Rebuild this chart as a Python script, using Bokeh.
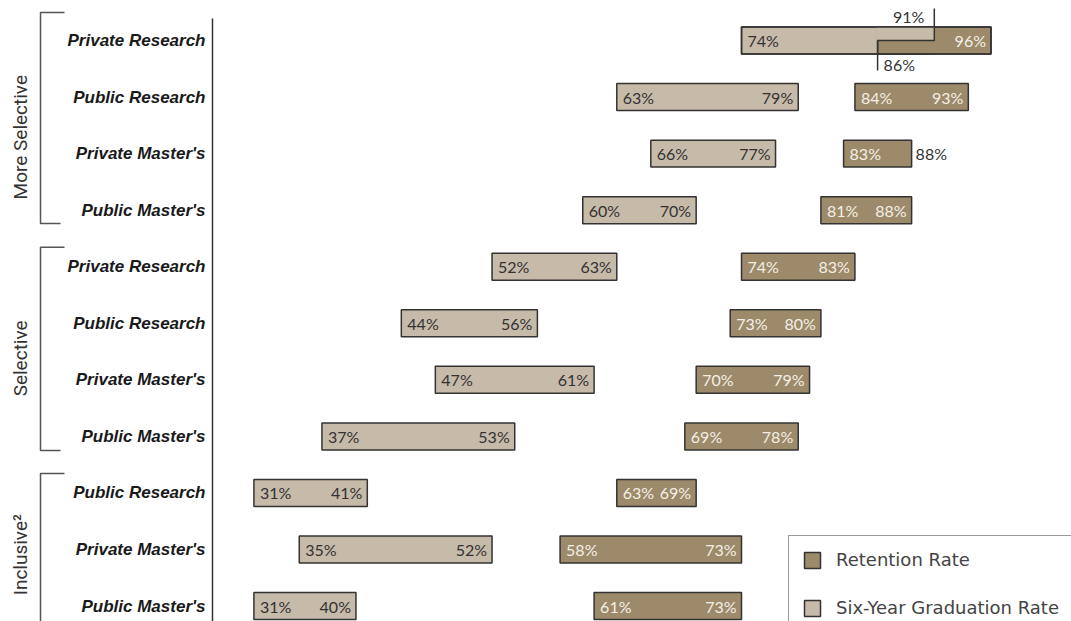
from bokeh.plotting import figure
from bokeh.models import Range1d, Legend, LegendItem
from bokeh.core.properties import value
from bokeh.embed import file_html
from bokeh.resources import INLINE
import math

# ---------------- data ----------------
categories = ["Private Research", "Public Research", "Private Master's", "Public Master's",
              "Private Research", "Public Research", "Private Master's", "Public Master's",
              "Public Research", "Private Master's", "Public Master's"]
groups = ["More Selective", "Selective", "Inclusive\u00b2"]
group_sizes = [4, 4, 3]

# labelled values (%)
grad_lo = [74, 63, 66, 60, 52, 44, 47, 37, 31, 35, 31]
grad_hi = [91, 79, 77, 70, 63, 56, 61, 53, 41, 52, 40]
ret_lo = [86, 84, 83, 81, 74, 73, 70, 69, 63, 58, 61]
ret_hi = [96, 93, 88, 88, 83, 80, 79, 78, 69, 73, 73]
# right ends of the bars as drawn in the picture (%)
grad_hi_drawn = [91, 79, 77, 70, 63, 56, 61, 54, 41, 52, 40]
ret_hi_drawn = [96, 94, 89, 89, 84, 81, 80, 79, 70, 74, 74]

# ---------------- layout / style ----------------
W, H = 1071, 621
PX = 11.34            # pixels per percentage point
X0 = 8.654            # value at the left edge of the figure
PITCH = 56.56         # pixels per row
Y_TOP = -40 / PITCH
Y_BOT = Y_TOP + H / PITCH
BAR_H = 0.477

LIGHT = "#C6BAA9"
DARK = "#9C8A6A"
EDGE = "#333333"
TXT = "#333333"
TXT_LIGHT = "#F4EFE6"
VAL_FONT = value("Lato")
VAL_SIZE = "16px"


def xpx(px):
    return X0 + px / PX


def ypx(py):
    return Y_TOP + py / PITCH


def dpx(px):
    return px / PITCH


rows = list(range(len(categories)))

p = figure(width=W, height=H, x_range=Range1d(X0, X0 + W / PX), y_range=Range1d(Y_BOT, Y_TOP),
           output_backend="svg", toolbar_location=None, x_axis_location=None, y_axis_location=None,
           min_border=0)
p.grid.visible = False
p.outline_line_color = None
p.background_fill_color = "white"
p.border_fill_color = "white"

tops = [r - BAR_H / 2 for r in rows]
bots = [r + BAR_H / 2 for r in rows]

r_grad = p.quad(left=grad_lo, right=grad_hi_drawn, top=tops, bottom=bots,
                fill_color=LIGHT, line_color=EDGE, line_width=1.5)
r_ret = p.quad(left=ret_lo, right=ret_hi_drawn, top=tops, bottom=bots,
               fill_color=DARK, line_color=EDGE, line_width=1.5)

# overlapping rows: upper half shows graduation end, lower half retention start
ov = [i for i in rows if grad_hi[i] > ret_lo[i]]
if ov:
    p.quad(left=[ret_lo[i] - 0.12 for i in ov], right=[grad_hi_drawn[i] for i in ov],
           top=[tops[i] for i in ov], bottom=[rows[i] for i in ov],
           fill_color=LIGHT, line_color=None)
    p.quad(left=[grad_lo[i] for i in ov], right=[ret_hi_drawn[i] for i in ov],
           top=[tops[i] for i in ov], bottom=[bots[i] for i in ov],
           fill_color=None, line_color=EDGE, line_width=1.5)
    for i in ov:
        p.line(x=[grad_hi_drawn[i], grad_hi_drawn[i], ret_lo[i], ret_lo[i]],
               y=[ypx(8), rows[i], rows[i], rows[i] + dpx(30)], line_color=EDGE, line_width=1.5)
    p.text(x=[grad_hi_drawn[i] for i in ov], y=[rows[i] - dpx(24) for i in ov],
           text=[f"{grad_hi[i]}%" for i in ov], text_align="right", text_baseline="middle",
           x_offset=-10, text_font=VAL_FONT, text_font_size=VAL_SIZE, text_color=TXT)
    p.text(x=[ret_lo[i] for i in ov], y=[rows[i] + dpx(24) for i in ov],
           text=[f"{ret_lo[i]}%" for i in ov], text_align="left", text_baseline="middle",
           x_offset=6, text_font=VAL_FONT, text_font_size=VAL_SIZE, text_color=TXT)

nov = [i for i in rows if i not in ov]

# graduation labels
p.text(x=grad_lo, y=rows, text=[f"{v}%" for v in grad_lo], text_align="left",
       text_baseline="middle", x_offset=6, text_font=VAL_FONT, text_font_size=VAL_SIZE,
       text_color=TXT)
p.text(x=[grad_hi_drawn[i] for i in nov], y=[rows[i] for i in nov],
       text=[f"{grad_hi[i]}%" for i in nov], text_align="right", text_baseline="middle",
       x_offset=-5, text_font=VAL_FONT, text_font_size=VAL_SIZE, text_color=TXT)

# retention labels
p.text(x=[ret_lo[i] for i in nov], y=[rows[i] for i in nov],
       text=[f"{ret_lo[i]}%" for i in nov], text_align="left", text_baseline="middle",
       x_offset=6, text_font=VAL_FONT, text_font_size=VAL_SIZE, text_color=TXT_LIGHT)
narrow = [i for i in nov if (ret_hi_drawn[i] - ret_lo[i]) * PX < 75]
inside = [i for i in rows if i not in narrow]
p.text(x=[ret_hi_drawn[i] for i in inside], y=[rows[i] for i in inside],
       text=[f"{ret_hi[i]}%" for i in inside], text_align="right", text_baseline="middle",
       x_offset=-5, text_font=VAL_FONT, text_font_size=VAL_SIZE, text_color=TXT_LIGHT)
p.text(x=[ret_hi_drawn[i] for i in narrow], y=[rows[i] for i in narrow],
       text=[f"{ret_hi[i]}%" for i in narrow], text_align="left", text_baseline="middle",
       x_offset=4, text_font=VAL_FONT, text_font_size=VAL_SIZE, text_color=TXT)

# axis line
p.segment(x0=[xpx(212)], y0=[ypx(18)], x1=[xpx(212)], y1=[Y_BOT + 1],
          line_color=EDGE, line_width=1.5)

# category labels
p.text(x=[xpx(205)] * len(rows), y=rows, text=categories, text_align="right",
       text_baseline="middle", text_font=value("Liberation Sans"), text_font_style="bold italic",
       text_font_size="17px", text_color="#1a1a1a")

# group brackets and labels
top_pad = [0.495, 0.344, 0.344]
bot_pad = [0.235, 0.25, 0.32]
label_shift = [0.21, 0.12, 0.09]
start = 0
bx, by, gx, gy = [], [], [], []
for g, n in enumerate(group_sizes):
    first, last = start, start + n - 1
    t = first - top_pad[g]
    b = last + bot_pad[g]
    bx.append([xpx(64), xpx(40), xpx(40), xpx(60)])
    by.append([t, t, b, b])
    gx.append(xpx(19.5))
    gy.append((first + last) / 2 + label_shift[g])
    start += n
p.multi_line(xs=bx, ys=by, line_color="#555555", line_width=1.5)
p.text(x=gx, y=gy, text=groups, angle=math.pi / 2, text_align="center", text_baseline="middle",
       text_font=value("Roboto"), text_font_size="19px", text_color="#333333")

legend = Legend(items=[LegendItem(label="Retention Rate", renderers=[r_ret]),
                       LegendItem(label="Six-Year Graduation Rate", renderers=[r_grad])],
                location=(788, -11), orientation="vertical",
                border_line_color=EDGE, border_line_width=1, background_fill_color="white",
                background_fill_alpha=1.0, label_text_font="DejaVu Sans", label_text_font_size="18px",
                label_text_color="#444444", glyph_width=20, glyph_height=20, label_standoff=14,
                spacing=27, padding=13, margin=0, label_height=20)
p.add_layout(legend)

open("out.html", "w").write(file_html(p, INLINE))
